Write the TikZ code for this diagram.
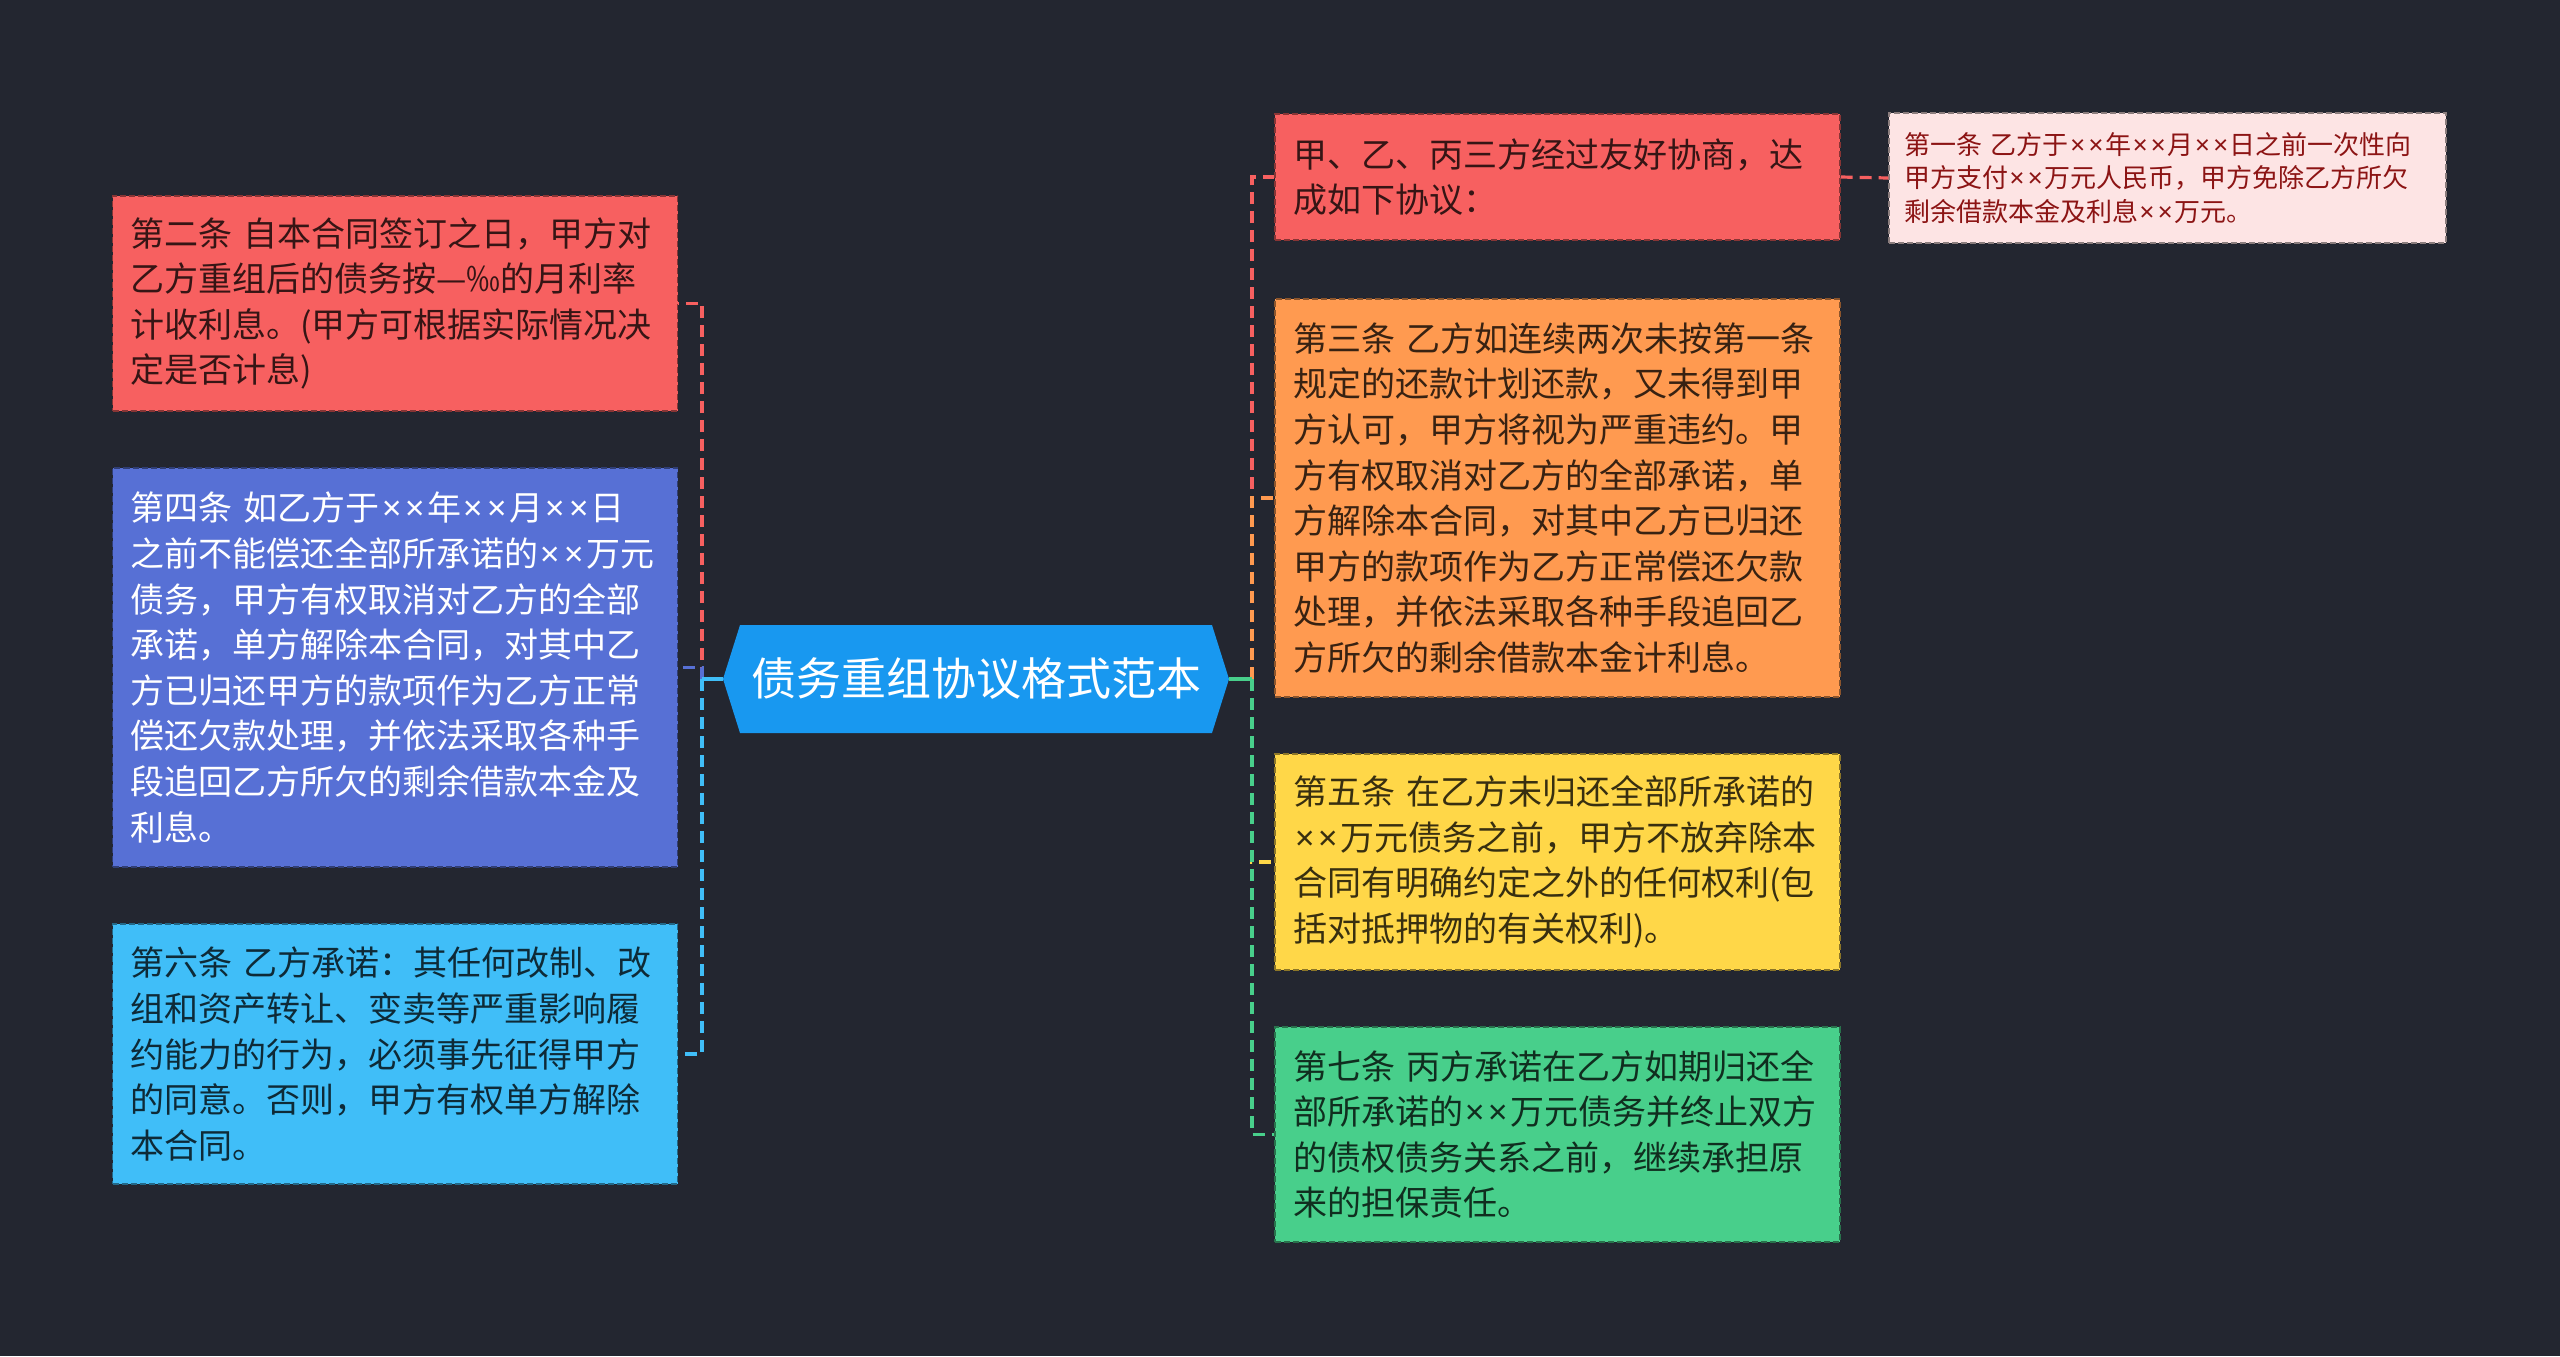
\documentclass[tikz,border=0pt]{standalone}
\usepackage{fontspec}
\setmainfont{Noto Sans CJK SC}
\newfontfamily\latinfont{Noto Sans}
\newcommand{\mx}{\makebox[0.7em]{\latinfont ×}}
\usetikzlibrary{shapes.symbols}
\definecolor{bg}{HTML}{232630}
\definecolor{cred}{HTML}{F76060}
\definecolor{cblue}{HTML}{5770D5}
\definecolor{ccyan}{HTML}{40BEF8}
\definecolor{croot}{HTML}{1898F0}
\definecolor{corange}{HTML}{FF9A50}
\definecolor{cyellow}{HTML}{FFD748}
\definecolor{cgreen}{HTML}{48CF8B}
\definecolor{cpink}{HTML}{FDE4E4}
\definecolor{cdeep}{HTML}{8C1414}
\begin{document}
\begin{tikzpicture}[x=0.5pt, y=-0.5pt,
        box/.style={rectangle, draw=#1!55!black, fill=#1, dash pattern=on 3pt off 1.5pt, line width=0.6pt, text=#1!22!black, align=left, text width=264.5pt, inner xsep=9pt, inner ysep=0pt, font=\fontsize{17pt}{22.8pt}\selectfont},
        link/.style={draw=#1, line width=1.6pt, dash pattern=on 6pt off 3.5pt},
        stub/.style={draw=#1, line width=1.6pt}]
        \fill[bg] (0, 0) rectangle (2560, 1356);
        \node[shape=signal, signal to=east and west, signal pointer angle=145, fill=croot, text=white, minimum width=253pt, minimum height=54pt, inner sep=0pt, font=\fontsize{22.5pt}{27pt}\selectfont] (root) at (976, 679) {债务重组协议格式范本};
        \node[box=cred, minimum height=107.5pt] (l1) at (395, 303.5) {第二条~自本合同签订之日，甲方对\\乙方重组后的债务按—‰的月利率\\计收利息。(甲方可根据实际情况决\\定是否计息)};
        \node[box=cblue, text=white, minimum height=199.5pt] (l2) at (395, 667.5) {第四条~如乙方于\mx\mx 年\mx\mx 月\mx\mx 日\\之前不能偿还全部所承诺的\mx\mx 万元\\债务，甲方有权取消对乙方的全部\\承诺，单方解除本合同，对其中乙\\方已归还甲方的款项作为乙方正常\\偿还欠款处理，并依法采取各种手\\段追回乙方所欠的剩余借款本金及\\利息。};
        \node[box=ccyan, minimum height=130pt] (l3) at (395, 1054) {第六条~乙方承诺：其任何改制、改\\组和资产转让、变卖等严重影响履\\约能力的行为，必须事先征得甲方\\的同意。否则，甲方有权单方解除\\本合同。};
        \node[box=cred, minimum height=63pt] (r1) at (1557.5, 177) {甲、乙、丙三方经过友好协商，达\\成如下协议：};
        \node[box=corange, minimum height=199pt] (r2) at (1557.5, 498) {第三条~乙方如连续两次未按第一条\\规定的还款计划还款，又未得到甲\\方认可，甲方将视为严重违约。甲\\方有权取消对乙方的全部承诺，单\\方解除本合同，对其中乙方已归还\\甲方的款项作为乙方正常偿还欠款\\处理，并依法采取各种手段追回乙\\方所欠的剩余借款本金计利息。};
        \node[box=cyellow, minimum height=108pt] (r3) at (1557.5, 862) {第五条~在乙方未归还全部所承诺的\\\mx\mx 万元债务之前，甲方不放弃除本\\合同有明确约定之外的任何权利(包\\括对抵押物的有关权利)。};
        \node[box=cgreen, minimum height=107.5pt] (r4) at (1557.5, 1134.5) {第七条~丙方承诺在乙方如期归还全\\部所承诺的\mx\mx 万元债务并终止双方\\的债权债务关系之前，继续承担原\\来的担保责任。};
        \node[box=cpink, text=cdeep, text width=263.5pt, inner xsep=7.5pt, minimum height=65pt, font=\fontsize{13pt}{16.75pt}\selectfont] (rr) at (2167.5, 178) {第一条~乙方于\mx\mx 年\mx\mx 月\mx\mx 日之前一次性向\\甲方支付\mx\mx 万元人民币，甲方免除乙方所欠\\剩余借款本金及利息\mx\mx 万元。};
        \coordinate (lj) at (702, 679);
        \coordinate (rj) at (1252, 679);
        \draw[link=cred] (lj) |- (l1.east);
        \draw[link=cblue] (lj) |- (l2.east);
        \draw[link=ccyan] (lj) |- (l3.east);
        \draw[stub=ccyan] (root.west) -- (lj);
        \draw[link=cred] (rj) |- (r1.west);
        \draw[link=corange] (rj) |- (r2.west);
        \draw[link=cyellow] (rj) |- (r3.west);
        \draw[link=cgreen] (rj) |- (r4.west);
        \draw[stub=cgreen] (root.east) -- (rj);
        \draw[link=cred] (r1.east) -- (rr.west);
    \end{tikzpicture}
\end{document}
